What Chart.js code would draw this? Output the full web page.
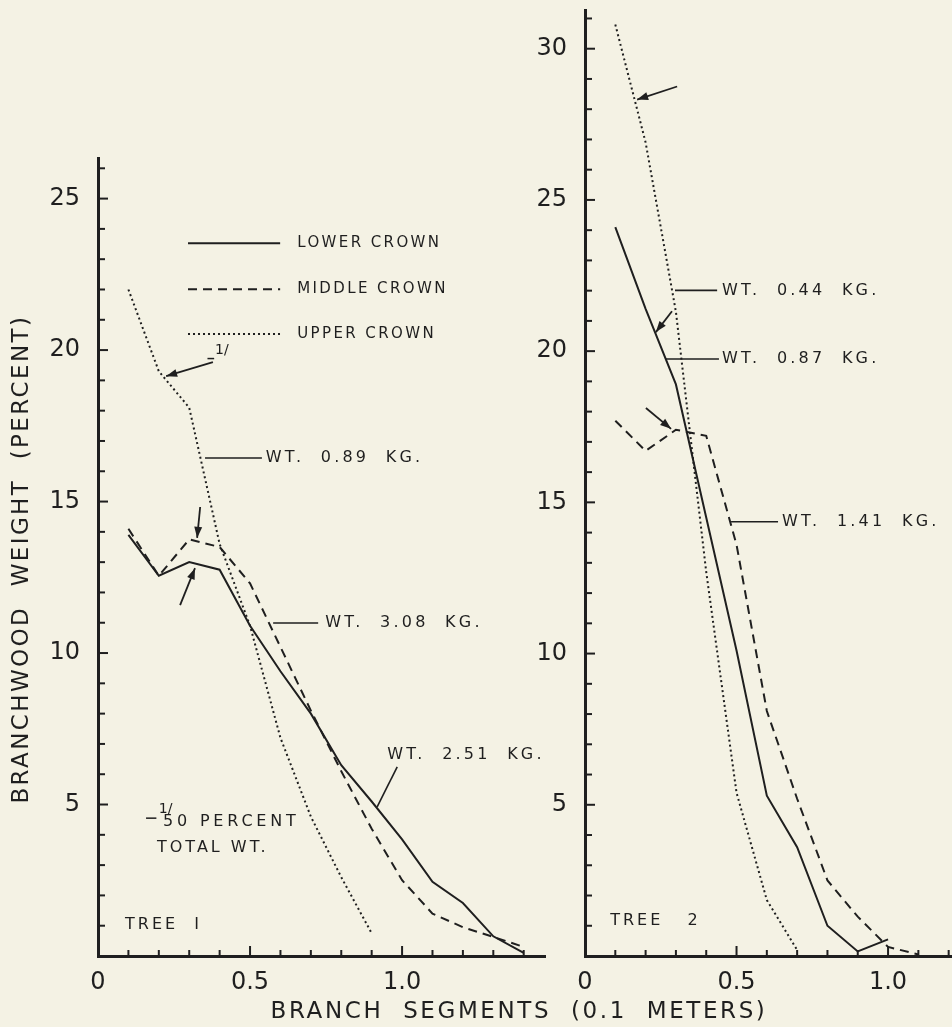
<!DOCTYPE html>
<html>
<head>
<meta charset="utf-8">
<script src="https://cdn.jsdelivr.net/npm/chart.js@4.4.0/dist/chart.umd.min.js"></script>
<style>
  html, body { margin: 0; padding: 0; background: #f4f2e4; }
  #wrap { position: relative; width: 952px; height: 1027px; overflow: hidden; }
  canvas { position: absolute; left: 0; top: 0; }
</style>
</head>
<body>
<div id="wrap">
  <canvas id="tree1" width="952" height="1027"></canvas>
  <canvas id="tree2" width="952" height="1027"></canvas>
</div>
<script>
const ink = '#1f1f1f'
const face = '"DejaVu Sans", sans-serif'

// tree 1, branch segments (0.1 m) and percent of branchwood weight
const segments1 = [0.1, 0.2, 0.3, 0.4, 0.5, 0.6, 0.7, 0.8, 0.9, 1.0, 1.1, 1.2, 1.3, 1.4]
const lower1 = [13.9, 12.55, 13.0, 12.75, 10.9, 9.4, 8.0, 6.3, 5.1, 3.85, 2.45, 1.75, 0.65, 0.1]
const middle1 = [14.1, 12.55, 13.75, 13.5, 12.3, 10.2, 8.1, 6.1, 4.2, 2.5, 1.4, 0.95, 0.63, 0.3]
const upper1 = [22.0, 19.3, 18.1, 13.6, 10.9, 7.2, 4.6, 2.6, 0.75]

// tree 2
const segments2 = [0.1, 0.2, 0.3, 0.4, 0.5, 0.6, 0.7, 0.8, 0.9, 1.0, 1.1]
const lower2 = [24.1, 21.4, 18.9, 14.5, 10.1, 5.3, 3.6, 1.0, 0.15, 0.55]
const middle2 = [17.7, 16.7, 17.4, 17.2, 13.6, 8.1, 5.2, 2.5, 1.3, 0.3, 0.05]
const upper2 = [30.8, 26.9, 21.3, 12.7, 5.4, 1.85, 0.2]

const xTickLabels = [0, 0.5, 1.0]
const yTickLabels1 = [5, 10, 15, 20, 25]
const yTickLabels2 = [5, 10, 15, 20, 25, 30]

const crowns = ['LOWER CROWN', 'MIDDLE CROWN', 'UPPER CROWN']
const dashes = [[], [9, 6], [2, 3]]

// notes in data units: leader lines, arrows, text
const leaders1 = [
  { text: 'WT.  0.89  KG.', from: [0.352, 16.44], to: [0.539, 16.44], at: [0.552, 16.44] },
  { text: 'WT.  3.08  KG.', from: [0.576, 10.99], to: [0.724, 10.99], at: [0.747, 10.99] },
  { text: 'WT.  2.51  KG.', from: [0.984, 6.24], to: [0.918, 4.92], at: [0.951, 6.63] }
]
const arrows1 = [
  { from: [0.378, 19.6], to: [0.224, 19.14] },
  { from: [0.336, 14.82], to: [0.326, 13.8] },
  { from: [0.27, 11.58], to: [0.319, 12.8] }
]
const leaders2 = [
  { text: 'WT.  0.44  KG.', from: [0.297, 22.01], to: [0.436, 22.01], at: [0.452, 22.01] },
  { text: 'WT.  0.87  KG.', from: [0.267, 19.74], to: [0.442, 19.74], at: [0.452, 19.74] },
  { text: 'WT.  1.41  KG.', from: [0.482, 14.36], to: [0.637, 14.36], at: [0.65, 14.36] }
]
const arrows2 = [
  { from: [0.304, 28.75], to: [0.172, 28.32] },
  { from: [0.287, 21.32], to: [0.234, 20.63] },
  { from: [0.201, 18.12], to: [0.284, 17.43] }
]

function pairs(xs, ys) {
  return ys.map((y, i) => ({ x: xs[i], y: y }))
}

function drawText(ctx, str, x, y, size, spacing, align) {
  ctx.save()
  ctx.font = size + 'px ' + face
  ctx.letterSpacing = spacing + 'px'
  ctx.fillStyle = ink
  ctx.textAlign = align || 'left'
  ctx.textBaseline = 'middle'
  ctx.fillText(str, x, y)
  ctx.restore()
}

function line(ctx, x1, y1, x2, y2, w) {
  ctx.save()
  ctx.strokeStyle = ink
  ctx.lineWidth = w
  ctx.beginPath()
  ctx.moveTo(x1, y1)
  ctx.lineTo(x2, y2)
  ctx.stroke()
  ctx.restore()
}

function arrow(ctx, x1, y1, x2, y2) {
  line(ctx, x1, y1, x2, y2, 1.8)
  const a = Math.atan2(y2 - y1, x2 - x1)
  ctx.save()
  ctx.fillStyle = ink
  ctx.beginPath()
  ctx.moveTo(x2, y2)
  ctx.lineTo(x2 - 11 * Math.cos(a) + 4 * Math.sin(a), y2 - 11 * Math.sin(a) - 4 * Math.cos(a))
  ctx.lineTo(x2 - 11 * Math.cos(a) - 4 * Math.sin(a), y2 - 11 * Math.sin(a) + 4 * Math.cos(a))
  ctx.closePath()
  ctx.fill()
  ctx.restore()
}

function noPad(s) {
  s.paddingTop = 0
  s.paddingBottom = 0
  s.paddingLeft = 0
  s.paddingRight = 0
}

function makePlugin(opts) {
  return {
    id: 'extras',
    afterDraw(chart) {
      const ctx = chart.ctx
      const sx = chart.scales.x, sy = chart.scales.y
      const X = v => sx.getPixelForValue(v)
      const Y = v => sy.getPixelForValue(v)

      // inward tick marks
      for (let i = 1; i * 0.1 <= sx.max + 1e-9; i++) {
        const len = i % 5 === 0 ? 10 : 6
        line(ctx, X(i * 0.1), sy.bottom, X(i * 0.1), sy.bottom - len, 2)
      }
      for (let j = 1; j <= sy.max; j++) {
        const len = j % 5 === 0 ? 10 : 7
        line(ctx, sx.left, Y(j), sx.left + len, Y(j), 2)
      }

      opts.leaders.forEach(n => {
        line(ctx, X(n.from[0]), Y(n.from[1]), X(n.to[0]), Y(n.to[1]), 1.6)
        drawText(ctx, n.text, X(n.at[0]), Y(n.at[1]), 16, 3.2)
      })
      opts.arrows.forEach(n => arrow(ctx, X(n.from[0]), Y(n.from[1]), X(n.to[0]), Y(n.to[1])))

      drawText(ctx, opts.tree, X(opts.treeAt[0]), Y(opts.treeAt[1]), 16, 3)

      if (opts.legend) {
        const rows = [23.53, 22.01, 20.53]
        crowns.forEach((c, k) => {
          ctx.save()
          ctx.setLineDash(dashes[k])
          line(ctx, X(0.296), Y(rows[k]), X(0.599), Y(rows[k]), 2)
          ctx.restore()
          drawText(ctx, c, X(0.655), Y(rows[k]), 15, 2.4)
        })
        // footnote
        drawText(ctx, '1/', X(0.2), Y(4.85), 14, 0)
        line(ctx, X(0.158), Y(4.55), X(0.192), Y(4.55), 1.5)
        drawText(ctx, '50 PERCENT', X(0.214), Y(4.42), 16, 3.8)
        drawText(ctx, 'TOTAL WT.', X(0.194), Y(3.56), 16, 3)
        drawText(ctx, '1/', X(0.385), Y(20.0), 14, 0)
        line(ctx, X(0.36), Y(19.72), X(0.382), Y(19.72), 1.5)

        // axis titles (shared)
        ctx.save()
        ctx.translate(22, Y(13.1))
        ctx.rotate(-Math.PI / 2)
        drawText(ctx, 'BRANCHWOOD  WEIGHT  (PERCENT)', 0, 0, 23, 2.4, 'center')
        ctx.restore()
        drawText(ctx, 'BRANCH  SEGMENTS  (0.1  METERS)', 519, 1012, 23, 2.6, 'center')
      }
    }
  }
}

function dataset(xs, ys, k) {
  return {
    label: crowns[k],
    data: pairs(xs, ys),
    borderColor: ink,
    borderWidth: 2,
    borderDash: dashes[k],
    pointRadius: 0,
    tension: 0,
    fill: false
  }
}

function makeChart(id, cfg) {
  return new Chart(document.getElementById(id), {
    type: 'line',
    data: { datasets: cfg.sets },
    options: {
      responsive: false,
      animation: false,
      devicePixelRatio: 1,
      layout: { padding: cfg.padding },
      plugins: { legend: { display: false }, tooltip: { enabled: false } },
      scales: {
        x: {
          type: 'linear',
          min: 0,
          max: cfg.xMax,
          afterBuildTicks: s => { s.ticks = xTickLabels.map(v => ({ value: v })) },
          afterFit: s => { s.height = 71; noPad(s) },
          ticks: {
            autoSkip: false,
            color: ink,
            padding: 12,
            font: { family: face, size: 24 },
            callback: v => v === 0 ? '0' : v.toFixed(1)
          },
          grid: { display: true, drawOnChartArea: false, drawTicks: false },
          border: { display: true, color: ink, width: 3 }
        },
        y: {
          type: 'linear',
          min: 0,
          max: cfg.yMax,
          afterBuildTicks: s => { s.ticks = cfg.yTicks.map(v => ({ value: v })) },
          afterFit: s => { s.width = 98; noPad(s) },
          ticks: {
            autoSkip: false,
            color: ink,
            padding: 18,
            font: { family: face, size: 24 },
            callback: v => String(v)
          },
          grid: { display: true, drawOnChartArea: false, drawTicks: false },
          border: { display: true, color: ink, width: 3 }
        }
      }
    },
    plugins: [makePlugin(cfg)]
  })
}

makeChart('tree1', {
  sets: [dataset(segments1, lower1, 0), dataset(segments1, middle1, 1), dataset(segments1, upper1, 2)],
  padding: { left: 0, top: 158, right: 407, bottom: 0 },
  xMax: 1.47,
  yMax: 26.34,
  yTicks: yTickLabels1,
  leaders: leaders1,
  arrows: arrows1,
  tree: 'TREE  I',
  treeAt: [0.089, 1.02],
  legend: true
})

makeChart('tree2', {
  sets: [dataset(segments2, lower2, 0), dataset(segments2, middle2, 1), dataset(segments2, upper2, 2)],
  padding: { left: 487, top: 10, right: 0, bottom: 0 },
  xMax: 1.211,
  yMax: 31.28,
  yTicks: yTickLabels2,
  leaders: leaders2,
  arrows: arrows2,
  tree: 'TREE   2',
  treeAt: [0.083, 1.16],
  legend: false
})
</script>
</body>
</html>
